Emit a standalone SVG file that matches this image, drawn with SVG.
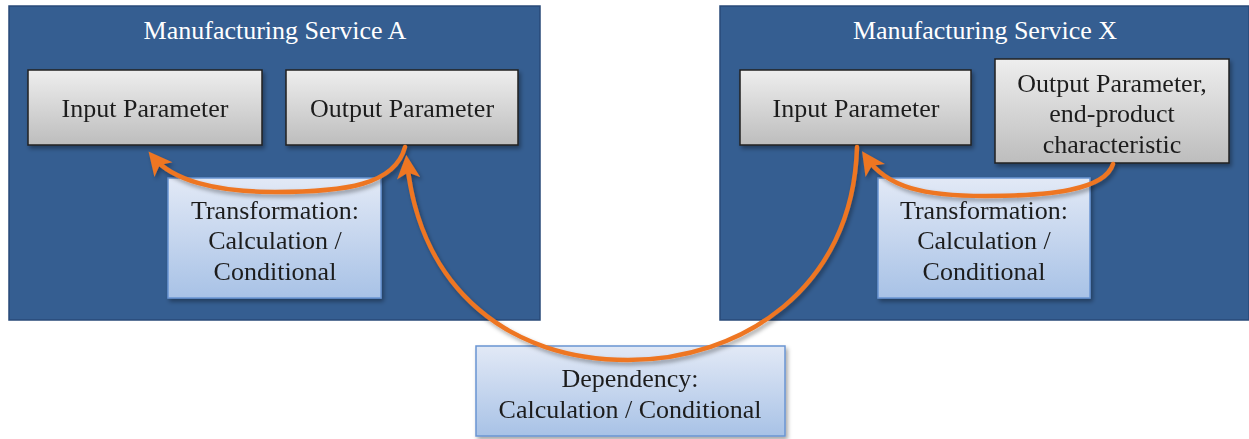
<svg xmlns="http://www.w3.org/2000/svg" width="1249" height="439" viewBox="0 0 1249 439">
<style>
.cont{fill:#355E91;stroke:#284a78;stroke-width:1.5}
.gray{fill:url(#gGray);stroke:#1f1f1f;stroke-width:1.5}
.blue{fill:url(#gBlue);stroke:#6a95d2;stroke-width:1.5}
.t{font-family:"Liberation Serif","Times New Roman",serif;font-size:26px;fill:#1e1e1e;text-anchor:middle}
.w{fill:#ffffff}
.arr{fill:none;stroke:#EE7623;stroke-width:4.5;stroke-linecap:round}
</style>
<defs>
<linearGradient id="gGray" x1="0" y1="0" x2="0" y2="1">
<stop offset="0" stop-color="#eeeeee"/><stop offset="1" stop-color="#bdbdbd"/>
</linearGradient>
<linearGradient id="gBlue" x1="0" y1="0" x2="0" y2="1">
<stop offset="0" stop-color="#e2e9f6"/><stop offset="1" stop-color="#a8c2e6"/>
</linearGradient>
<filter id="sh" x="-10%" y="-10%" width="125%" height="130%">
<feDropShadow dx="2" dy="3" stdDeviation="2" flood-color="#000" flood-opacity="0.35"/>
</filter>
<marker id="ah" viewBox="0 0 10 10" refX="7" refY="5" markerWidth="6.2" markerHeight="5.2" orient="auto" markerUnits="strokeWidth">
<path d="M0,0 L10,5 L0,10 L2.5,5 z" fill="#EE7623"/>
</marker>
</defs>

<g id="serviceA">
<rect class="cont" x="9" y="6" width="531" height="314"/>
<text class="t w" x="275" y="39">Manufacturing Service A</text>
</g>
<g id="serviceX">
<rect class="cont" x="720" y="6" width="529" height="314"/>
<text class="t w" x="985" y="39">Manufacturing Service X</text>
</g>

<g id="inputA" filter="url(#sh)">
<rect class="gray" x="28" y="70" width="234" height="75"/>
<text class="t" x="145" y="117">Input Parameter</text>
</g>
<g id="outputA" filter="url(#sh)">
<rect class="gray" x="286" y="70" width="232" height="75"/>
<text class="t" x="402" y="117">Output Parameter</text>
</g>
<g id="transA" filter="url(#sh)">
<rect class="blue" x="168" y="178" width="213" height="120"/>
<text class="t" x="275" y="219">Transformation:</text>
<text class="t" x="275" y="249">Calculation /</text>
<text class="t" x="275" y="280">Conditional</text>
</g>

<g id="inputX" filter="url(#sh)">
<rect class="gray" x="740" y="70" width="231" height="75"/>
<text class="t" x="856" y="117">Input Parameter</text>
</g>
<g id="outputX" filter="url(#sh)">
<rect class="gray" x="995" y="59" width="234" height="104"/>
<text class="t" x="1112" y="92">Output Parameter,</text>
<text class="t" x="1112" y="122">end-product</text>
<text class="t" x="1112" y="153">characteristic</text>
</g>
<g id="transX" filter="url(#sh)">
<rect class="blue" x="878" y="178" width="212" height="120"/>
<text class="t" x="984" y="219">Transformation:</text>
<text class="t" x="984" y="249">Calculation /</text>
<text class="t" x="984" y="280">Conditional</text>
</g>

<g id="dependency" filter="url(#sh)">
<rect class="blue" x="476" y="346" width="309" height="90"/>
<text class="t" x="630" y="387">Dependency:</text>
<text class="t" x="630" y="418">Calculation / Conditional</text>
</g>

<g id="connectors" filter="url(#sh)">
<path class="arr" marker-end="url(#ah)" d="M405,147 C395,185 345,192 275,192 C215,192 172,180 153,157"/>
<path class="arr" marker-end="url(#ah)" d="M1113,164 C1105,190 1050,196 985,196 C925,196 887,188 866,157"/>
<path class="arr" marker-end="url(#ah)" d="M857,147 C853,290 740,360 628,360 C510,360 420,290 407,162"/>
</g>
</svg>
